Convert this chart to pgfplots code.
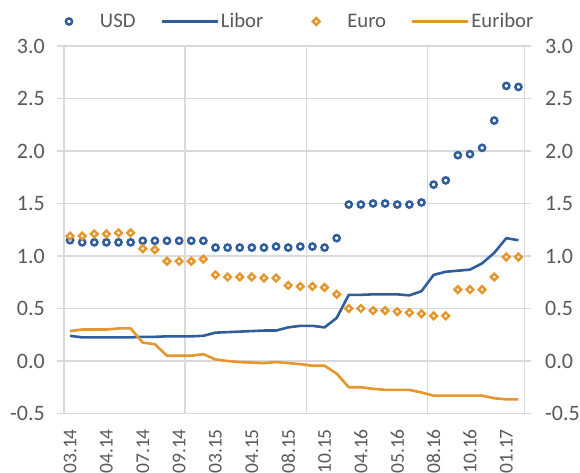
\documentclass[border=0pt]{standalone}
\usepackage{pgfplots}
\usepackage{pgfplotstable}
\pgfplotsset{compat=1.18}
\usepackage{fontspec}
\setmainfont{Carlito}
\definecolor{cblue}{RGB}{47,94,155}
\definecolor{corange}{RGB}{229,151,45}
\definecolor{cgrid}{RGB}{217,217,217}
\definecolor{ctext}{RGB}{89,89,89}

\pgfplotstableread{
idx usd libor euro euribor
0 1.15 0.24 1.19 0.285
1 1.13 0.225 1.19 0.30
2 1.13 0.225 1.21 0.30
3 1.13 0.225 1.21 0.30
4 1.13 0.225 1.22 0.31
5 1.13 0.225 1.22 0.31
6 1.145 0.23 1.07 0.175
7 1.145 0.23 1.06 0.16
8 1.145 0.235 0.95 0.05
9 1.145 0.235 0.95 0.05
10 1.145 0.235 0.95 0.05
11 1.145 0.24 0.97 0.065
12 1.08 0.27 0.82 0.015
13 1.08 0.275 0.80 0.0
14 1.08 0.28 0.80 -0.01
15 1.08 0.285 0.80 -0.015
16 1.08 0.29 0.79 -0.02
17 1.09 0.29 0.79 -0.01
18 1.08 0.32 0.72 -0.02
19 1.09 0.335 0.71 -0.03
20 1.09 0.335 0.71 -0.045
21 1.08 0.32 0.70 -0.045
22 1.17 0.41 0.635 -0.12
23 1.49 0.63 0.50 -0.25
24 1.49 0.63 0.50 -0.25
25 1.50 0.635 0.48 -0.265
26 1.50 0.635 0.48 -0.275
27 1.49 0.635 0.47 -0.275
28 1.49 0.625 0.46 -0.275
29 1.51 0.665 0.45 -0.30
30 1.68 0.82 0.43 -0.33
31 1.72 0.85 0.43 -0.33
32 1.96 0.86 0.68 -0.33
33 1.97 0.87 0.68 -0.33
34 2.03 0.93 0.68 -0.33
35 2.29 1.03 0.80 -0.355
36 2.62 1.17 0.99 -0.365
37 2.61 1.15 0.99 -0.365
}\datatable

\begin{document}
\begin{tikzpicture}
\useasboundingbox (0,0) rectangle (580bp,473bp);
\begin{axis}[
  at={(64bp,59.5bp)}, anchor=south west,
  width=460.5bp, height=367.5bp, scale only axis,
  xmin=-0.5, xmax=37.5, ymin=-0.5, ymax=3,
  xtick={0,3,...,36},
  xticklabels={03.14,04.14,07.14,09.14,03.15,04.15,08.15,10.15,04.16,05.16,08.16,10.16,01.17},
  xticklabel shift=9bp,
  xticklabel style={rotate=90, anchor=east, inner sep=0pt, font=\fontsize{19.5bp}{21bp}\selectfont, text=ctext},
  xtick style={draw=none},
  extra x ticks={9.5,19.5,29.5},
  extra x tick labels={},
  extra x tick style={grid=major, major tick length=0pt},
  ytick={-0.5,0,0.5,1,1.5,2,2.5,3},
  yticklabels={-0.5,0.0,0.5,1.0,1.5,2.0,2.5,3.0},
  ytick pos=left,
  yticklabel shift=12.5bp,
  yticklabel style={anchor=east, inner sep=0pt, font=\fontsize{22bp}{24bp}\selectfont, text=ctext},
  ymajorgrids,
  grid style={cgrid, line width=1.4bp},
  axis line style={cgrid, line width=1.4bp},
  tick align=outside, major tick length=6.5bp,
  ytick style={cgrid, line width=1.4bp},
  legend columns=4,
  legend style={at={(0,1)}, anchor=west, xshift=-23bp, yshift=24.5bp,
    draw=none, fill=none, inner sep=0pt, outer sep=0pt,
    font=\fontsize{20.7bp}{22bp}\selectfont, text=ctext,
    nodes={inner sep=0pt},
    /tikz/every even column/.append style={column sep=25bp}},
]
\addlegendimage{only marks, color=cblue, mark=*, mark size=3.1bp, mark options={fill=white, line width=2.5bp},
  legend image code/.code={\path[draw=none, fill=none] (0bp,-1bp) rectangle (59bp,1bp); \draw plot[only marks] coordinates {(28bp,0bp)};}}
\addlegendentry{USD}
\addlegendimage{cblue, line width=2.6bp,
  legend image code/.code={\path[draw=none, fill=none] (0bp,-1bp) rectangle (59bp,1bp); \draw (0bp,0bp) -- (56bp,0bp);}}
\addlegendentry{Libor}
\addlegendimage{only marks, color=corange, mark=square*, mark size=2.4bp, mark options={fill=white, line width=2.4bp, rotate=45},
  legend image code/.code={\path[draw=none, fill=none] (0bp,-1bp) rectangle (59bp,1bp); \draw plot[only marks] coordinates {(28bp,0bp)};}}
\addlegendentry{Euro}
\addlegendimage{corange, line width=2.6bp,
  legend image code/.code={\path[draw=none, fill=none] (0bp,-1bp) rectangle (59bp,1bp); \draw (0bp,0bp) -- (56bp,0bp);}}
\addlegendentry{Euribor}

\addplot[forget plot, cblue, line width=2.6bp, line join=round] table[x=idx, y=libor] {\datatable};
\addplot[forget plot, corange, line width=2.6bp, line join=round] table[x=idx, y=euribor] {\datatable};
\addplot[forget plot, only marks, cblue, mark=*, mark size=3.1bp, mark options={fill=white, line width=2.5bp}] table[x=idx, y=usd] {\datatable};
\addplot[forget plot, only marks, corange, mark=square*, mark size=2.4bp, mark options={fill=white, line width=2.4bp, rotate=45}] table[x=idx, y=euro] {\datatable};
\end{axis}
\begin{axis}[
  at={(64bp,59.5bp)}, anchor=south west,
  width=460.5bp, height=367.5bp, scale only axis,
  xmin=-0.5, xmax=37.5, ymin=-0.5, ymax=3,
  xtick=\empty,
  axis line style={draw=none},
  ytick={-0.5,0,0.5,1,1.5,2,2.5,3},
  yticklabels={-0.5,0.0,0.5,1.0,1.5,2.0,2.5,3.0},
  ytick pos=right, yticklabel pos=right,
  yticklabel shift=14bp,
  yticklabel style={anchor=west, inner sep=0pt, font=\fontsize{22bp}{24bp}\selectfont, text=ctext},
  tick align=outside, major tick length=6.5bp,
  ytick style={cgrid, line width=1.4bp},
]
\addplot[draw=none] coordinates {(0,0)};
\end{axis}
\end{tikzpicture}
\end{document}
